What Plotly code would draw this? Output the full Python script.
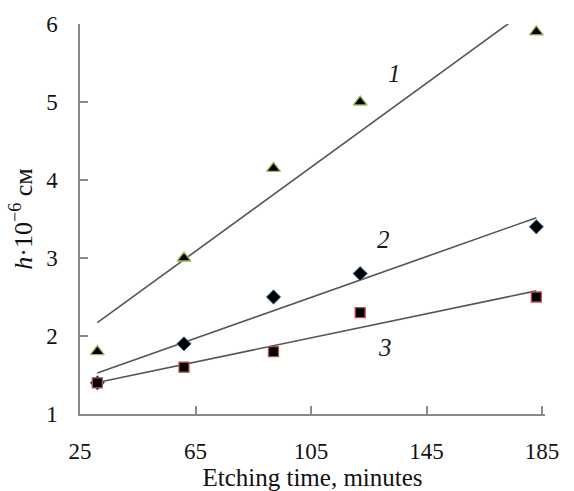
import numpy as np
import plotly.graph_objects as go

# Etching time (minutes) and film thickness h (x10^-6 cm) for three series
time_min = [31, 61, 92, 122, 183]
h_series1 = [1.8, 3.0, 4.15, 5.0, 5.9]
h_series2 = [1.4, 1.9, 2.5, 2.8, 3.4]
h_series3 = [1.4, 1.6, 1.8, 2.3, 2.5]
series_labels = ["1", "2", "3"]
label_x = [134, 130, 130.5]
label_y = [5.37, 3.24, 1.85]

x_ticks = [25, 65, 105, 145, 185]
y_ticks = [1, 2, 3, 4, 5, 6]

FONT = "Liberation Serif, Times New Roman, serif"
AXIS_GREY = "#8a8a8a"

fig = go.Figure()

# Linear trend lines (least-squares fit over each series)
xs = np.array(time_min, dtype=float)
for ys in (h_series1, h_series2, h_series3):
    k, b = np.polyfit(xs, np.array(ys, dtype=float), 1)
    xl = np.array([xs.min(), xs.max()])
    fig.add_trace(go.Scatter(
        x=xl, y=k * xl + b, mode="lines",
        line=dict(color="#555555", width=1.6),
        showlegend=False, hoverinfo="skip",
    ))

marker_styles = [
    dict(symbol="triangle-up", size=12, color="black",
         line=dict(color="#9BBB59", width=1.3)),
    dict(symbol="diamond", size=11, color="black",
         line=dict(color="#4F81BD", width=1)),
    dict(symbol="square", size=10, color="black",
         line=dict(color="#C0504D", width=1.3)),
]
# draw diamonds first so squares sit on top where they coincide
for ys, m in ((h_series2, marker_styles[1]),
              (h_series1, marker_styles[0]),
              (h_series3, marker_styles[2])):
    fig.add_trace(go.Scatter(x=time_min, y=ys, mode="markers",
                             marker=m, showlegend=False, cliponaxis=False))

for lab, lx, ly in zip(series_labels, label_x, label_y):
    fig.add_annotation(x=lx, y=ly, text=f"<i>{lab}</i>", showarrow=False,
                       font=dict(family=FONT, size=25, color="#1a1a1a"))

fig.update_layout(
    width=574, height=491,
    margin=dict(l=80, r=29, t=24, b=77),
    paper_bgcolor="white", plot_bgcolor="white",
    font=dict(family=FONT, size=23, color="#111111"),
    xaxis=dict(
        range=[25, 186], tickvals=x_ticks, ticktext=[str(v) for v in x_ticks],
        showgrid=False, zeroline=False, automargin=False,
        showline=True, linecolor=AXIS_GREY, linewidth=1.5,
        ticks="inside", ticklen=8, tickcolor=AXIS_GREY, tickwidth=1.5,
        ticklabelstandoff=16,
        title=dict(text="Etching time, minutes", standoff=2,
                   font=dict(family=FONT, size=25)),
    ),
    yaxis=dict(
        range=[1, 6], tickvals=y_ticks, ticktext=[str(v) for v in y_ticks],
        showgrid=False, zeroline=False, automargin=False,
        showline=True, linecolor=AXIS_GREY, linewidth=1.5,
        ticks="inside", ticklen=8, tickcolor=AXIS_GREY, tickwidth=1.5,
        ticklabelstandoff=16,
        title=dict(text="<i>h</i>·10<sup>−6</sup> см", standoff=6,
                   font=dict(family=FONT, size=26)),
    ),
)

fig.write_html("out.html")
